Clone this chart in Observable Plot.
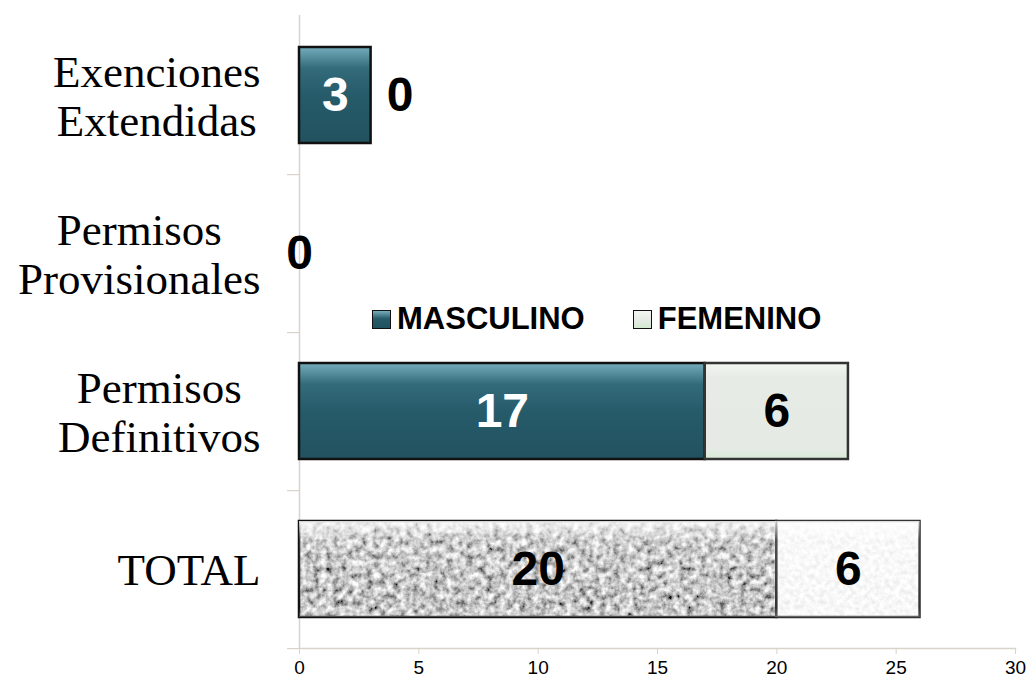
<!DOCTYPE html>
<html>
<head>
<meta charset="utf-8">
<script src="https://cdn.jsdelivr.net/npm/d3@7"></script>
<script src="https://cdn.jsdelivr.net/npm/@observablehq/plot@0.6"></script>
<style>
  html, body { margin: 0; padding: 0; background: #fff; }
  #wrap { position: relative; width: 1029px; height: 682px; }
  #legend { position: absolute; top: 301px; left: 372px; display: flex; align-items: center;
    font: bold 31px "Liberation Sans", Arial, sans-serif; color: #000; white-space: nowrap; }
  .sw { width: 17px; height: 17px; border: 1px solid #111; margin-right: 6px; }
  .item { display: flex; align-items: center; }
</style>
</head>
<body>
<div id="wrap">
  <div id="chart"></div>
  <div id="legend"></div>
</div>
<script>
// ---- data ----
const categories = ["Exenciones\nExtendidas", "Permisos\nProvisionales", "Permisos\nDefinitivos", "TOTAL"];
const masculino = [3, 0, 17, 20];
const femenino = [0, 0, 6, 6];
const seriesNames = ["MASCULINO", "FEMENINO"];
const xTicks = [0, 5, 10, 15, 20, 25, 30];

// ---- derived tables ----
const segs = [];
const labels = [];
categories.forEach((cat, i) => {
  const m = masculino[i], f = femenino[i];
  const total = cat === "TOTAL";
  if (m > 0) segs.push({cat, x1: 0, x2: m, kind: total ? "mt" : "m"});
  if (f > 0) segs.push({cat, x1: m, x2: m + f, kind: total ? "ft" : "f"});
  if (m > 0) labels.push({cat, x: m / 2, text: String(m), fill: total ? "black" : "white", dx: 0});
  else if (f === 0) labels.push({cat, x: 0, text: "0", fill: "black", dx: 0});
  if (f > 0) labels.push({cat, x: m + f / 2, text: String(f), fill: "black", dx: 0});
  else if (m > 0) labels.push({cat, x: m, text: "0", fill: "black", dx: 29});
});

const barOpts = {y: "cat", insetTop: 31, insetBottom: 31, stroke: "#111", strokeWidth: 2.5};

const chart = Plot.plot({
  width: 1029,
  height: 682,
  marginLeft: 299,
  marginRight: 14,
  marginTop: 15,
  marginBottom: 34,
  style: {fontFamily: "Liberation Sans, Arial, sans-serif", background: "white"},
  x: {domain: [0, 30], label: null},
  y: {domain: categories, padding: 0, label: null},
  marks: [
    Plot.ruleY(categories, {y: d => d, x1: -0.5, x2: 0, dy: 79.125, stroke: "#d9d4c9", strokeWidth: 1.2}),
    Plot.ruleX([0], {stroke: "#d9d4c9", strokeWidth: 1.5}),
    Plot.frame({anchor: "bottom", stroke: "#d9d4c9", strokeWidth: 1.5}),
    Plot.axisX({ticks: xTicks, label: null, tickSize: 6, tickFormat: () => "", stroke: "#d9d4c9"}),
    Plot.text(xTicks, {x: d => d, text: d => String(d), frameAnchor: "bottom", dy: 25, fill: "black", fontSize: 19, fontFamily: "Liberation Sans, Arial, sans-serif"}),
    Plot.axisY({label: null, tickSize: 0, tickPadding: 39, fontSize: 45, lineHeight: 1.09, fill: "black", fontFamily: "Liberation Serif, Times New Roman, serif"}),
    Plot.barX(segs.filter(d => d.kind === "m"), {...barOpts, x1: "x1", x2: "x2", fill: "url(#teal)"}),
    Plot.barX(segs.filter(d => d.kind === "f"), {...barOpts, x1: "x1", x2: "x2", fill: "url(#fem)", stroke: "#333"}),
    Plot.barX(segs.filter(d => d.kind === "mt"), {...barOpts, x1: "x1", x2: "x2", fill: "url(#noiseDark)"}),
    Plot.barX(segs.filter(d => d.kind === "ft"), {...barOpts, x1: "x1", x2: "x2", fill: "url(#noiseLight)", stroke: "#333"}),
    Plot.barX(segs.filter(d => d.kind === "mt" || d.kind === "ft"), {...barOpts, x1: "x1", x2: "x2", fill: "url(#shine)", stroke: "none"}),
    Plot.text(labels.filter(d => d.dx === 0), {x: "x", y: "cat", text: "text", fill: "fill", fontSize: 48, fontWeight: "bold", fontFamily: "Liberation Sans, Arial, sans-serif"}),
    Plot.text(labels.filter(d => d.dx !== 0), {x: "x", y: "cat", text: "text", fill: "fill", dx: 29, fontSize: 48, fontWeight: "bold", fontFamily: "Liberation Sans, Arial, sans-serif"})
  ]
});

document.getElementById("chart").append(chart);

// gradients and textures
d3.select(chart).insert("defs", ":first-child").html(`
  <linearGradient id="teal" x1="0" y1="0" x2="0" y2="1">
    <stop offset="0" stop-color="#76adbd"/>
    <stop offset="0.22" stop-color="#336b7b"/>
    <stop offset="0.5" stop-color="#265b6a"/>
    <stop offset="1" stop-color="#22525f"/>
  </linearGradient>
  <linearGradient id="fem" x1="0" y1="0" x2="0" y2="1">
    <stop offset="0" stop-color="#f2f5f1"/>
    <stop offset="0.15" stop-color="#e6ece5"/>
    <stop offset="0.9" stop-color="#e5ebe4"/>
    <stop offset="1" stop-color="#d7ecd5"/>
  </linearGradient>
  <linearGradient id="shine" x1="0" y1="0" x2="0" y2="1">
    <stop offset="0" stop-color="#fff" stop-opacity="0.85"/>
    <stop offset="0.2" stop-color="#fff" stop-opacity="0.15"/>
    <stop offset="0.9" stop-color="#fff" stop-opacity="0"/>
    <stop offset="1" stop-color="#fff" stop-opacity="0.25"/>
  </linearGradient>
  <filter id="turbDark" x="0" y="0" width="100%" height="100%">
    <feTurbulence type="fractalNoise" baseFrequency="0.15" numOctaves="3" seed="4"/>
    <feColorMatrix type="matrix" values="1.6 0 0 0 -0.25  1.6 0 0 0 -0.25  1.6 0 0 0 -0.25  0 0 0 0 1"/>
  </filter>
  <filter id="turbLight" x="0" y="0" width="100%" height="100%">
    <feTurbulence type="fractalNoise" baseFrequency="0.2" numOctaves="3" seed="7"/>
    <feColorMatrix type="matrix" values="0.35 0 0 0 0.76  0.35 0 0 0 0.76  0.35 0 0 0 0.76  0 0 0 0 1"/>
  </filter>
  <pattern id="noiseDark" patternUnits="userSpaceOnUse" x="0" y="0" width="1029" height="682">
    <rect width="1029" height="682" filter="url(#turbDark)"/>
  </pattern>
  <pattern id="noiseLight" patternUnits="userSpaceOnUse" x="0" y="0" width="1029" height="682">
    <rect width="1029" height="682" filter="url(#turbLight)"/>
  </pattern>
`);

// centre each line of the multi-line y labels within its block (right edge kept)
d3.select(chart).selectAll('g[aria-label="y-axis tick label"] text').each(function () {
  const tspans = this.querySelectorAll("tspan");
  if (tspans.length < 2) return;
  let maxW = 0;
  tspans.forEach(t => { maxW = Math.max(maxW, t.getComputedTextLength()); });
  this.setAttribute("text-anchor", "middle");
  tspans.forEach(t => t.setAttribute("x", -maxW / 2));
});

// legend overlay
const swatchBg = ["linear-gradient(#76adbd, #265b6a 45%, #22525f)", "linear-gradient(#f2f5f1, #e3eae2 60%, #d2e9d0)"];
const legend = document.getElementById("legend");
seriesNames.forEach((name, i) => {
  const item = document.createElement("div");
  item.className = "item";
  if (i > 0) item.style.marginLeft = "48px";
  const sw = document.createElement("div");
  sw.className = "sw";
  sw.style.background = swatchBg[i];
  const t = document.createElement("span");
  t.textContent = name;
  item.append(sw, t);
  legend.append(item);
});
</script>
</body>
</html>
